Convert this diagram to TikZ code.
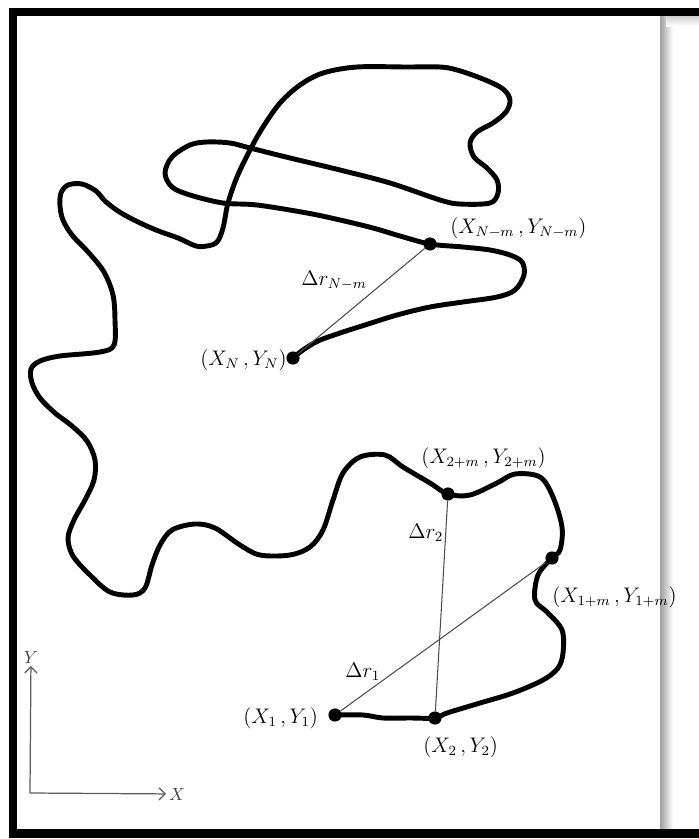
\documentclass[tikz,border=0pt]{standalone}
\usepackage{amsmath}
\usepackage{tikz}
\usetikzlibrary{arrows.meta}

\begin{document}
\begin{tikzpicture}[x=0.02cm,y=-0.02cm,
		track/.style={line width=2.8pt,line join=round,line cap=round},
		chord/.style={gray!60!black,line width=0.6pt},
		dot/.style={circle,fill=black,inner sep=0pt,minimum size=7.5pt},
		lbl/.style={inner sep=0pt,font=\fontsize{11.5}{13}\selectfont},
		axislbl/.style={inner sep=1.5pt,black!75,font=\fontsize{10}{12}\selectfont},
		axisline/.style={gray!70!black,line width=0.7pt,-{Straight Barb[length=3.5pt,width=7pt]}}]
		\useasboundingbox (0,0) rectangle (699,839);
		
		% page shadow on the right
		\shade[left color=gray!75,right color=white] (660,14) rectangle (673,829);
		\shade[top color=gray!45,bottom color=white] (666,14) rectangle (699,26);
		
		% frame
		\draw[line width=5pt] (699,12) -- (13,12) -- (13,833.5) -- (699,833.5);
		
		% the walk
		\draw[track] plot[smooth,tension=0.55] coordinates {
			(293,358) (303,350) (318,341) (340,333) (365,325) (397,315) (430,307)
			(463,302) (497,297) (515,290) (524,275) (522,262) (510,255) (490,250)
			(463,247) (430,244)
			(400,236) (373,228) (340,220) (307,213) (257,205) (223,203) (190,195)
			(172,187) (165,173) (172,157) (190,145) (207,142) (230,143) (250,148)
			(290,158) (340,170) (390,183) (440,200) (460,204) (490,203) (498,193)
			(497,180) (487,168) (474,157) (470,143) (477,132) (493,123) (506,112)
			(510,100) (503,89) (483,79) (457,70) (440,67) (407,67) (357,67)
			(323,73) (300,85) (280,103) (263,127) (250,150) (237,177) (228,203)
			(223,228) (217,242)
			(207,246) (196,246) (178,238) (156,230) (134,220) (118,211) (105,201)
			(96,191) (82,184) (68,185) (61,193) (60,206) (63,220) (72,235) (89,253)
			(104,272) (113,295) (115,320) (114,345) (100,352) (60,356) (40,361)
			(31,369) (32,383) (40,398) (55,413) (72,426) (87,441) (95,460) (94,480)
			(85,500) (74,520) (68,538) (73,556) (90,575) (110,592) (133,595)
			(145,588) (152,565) (160,545) (172,530) (195,524) (215,528) (240,545)
			(260,555) (290,555) (310,547) (323,530) (333,500) (343,473) (360,457)
			(385,455) (403,467) (430,483) (448,494)
			(470,495) (497,483) (515,474) (540,477) (553,497) (562,527) (560,550)
			(552,558) (538,575) (535,600) (547,612) (562,630) (563,653) (558,668)
			(543,680) (513,693) (480,703) (447,713) (435,718) (410,718) (383,718)
			(363,715) (335,715)};
		
		% sampled points
		\node[dot] (pN) at (293,358) {};
		\node[dot] (pNm) at (430,244) {};
		\node[dot] (p2m) at (448,494) {};
		\node[dot] (p1m) at (552,558) {};
		\node[dot] (p2) at (435,718) {};
		\node[dot] (p1) at (335,715) {};
		
		% displacements
		\draw[chord] (pN) -- (pNm);
		\draw[chord] (p1) -- (p1m);
		\draw[chord] (p2) -- (p2m);
		
		% labels
		\node[lbl,anchor=base west] (lNm) at (450,233) {$(X_{N-m}\,,Y_{N-m})$};
		\node[lbl,anchor=base west] (lrNm) at (301,285) {$\Delta r_{N-m}$};
		\node[lbl,anchor=base east] (lN) at (287,365) {$(X_{N}\,,Y_{N})$};
		\node[lbl,anchor=base west] (l2m) at (421,463) {$(X_{2+m}\,,Y_{2+m})$};
		\node[lbl,anchor=base west] (lr2) at (408,538) {$\Delta r_{2}$};
		\node[lbl,anchor=base west] (l1m) at (552,602) {$(X_{1+m}\,,Y_{1+m})$};
		\node[lbl,anchor=base west] (lr1) at (345,677) {$\Delta r_{1}$};
		\node[lbl,anchor=base west] (l1) at (243,723) {$(X_{1}\,,Y_{1})$};
		\node[lbl,anchor=base west] (l2) at (423,752) {$(X_{2}\,,Y_{2})$};
		
		% axes
		\coordinate (O) at (30,793);
		\node[axislbl] (xlab) at (177,794) {$X$};
		\node[axislbl] (ylab) at (31,657) {$Y$};
		\draw[axisline] (O) -- (xlab);
		\draw[axisline] (O) -- (ylab);
	\end{tikzpicture}
\end{document}
